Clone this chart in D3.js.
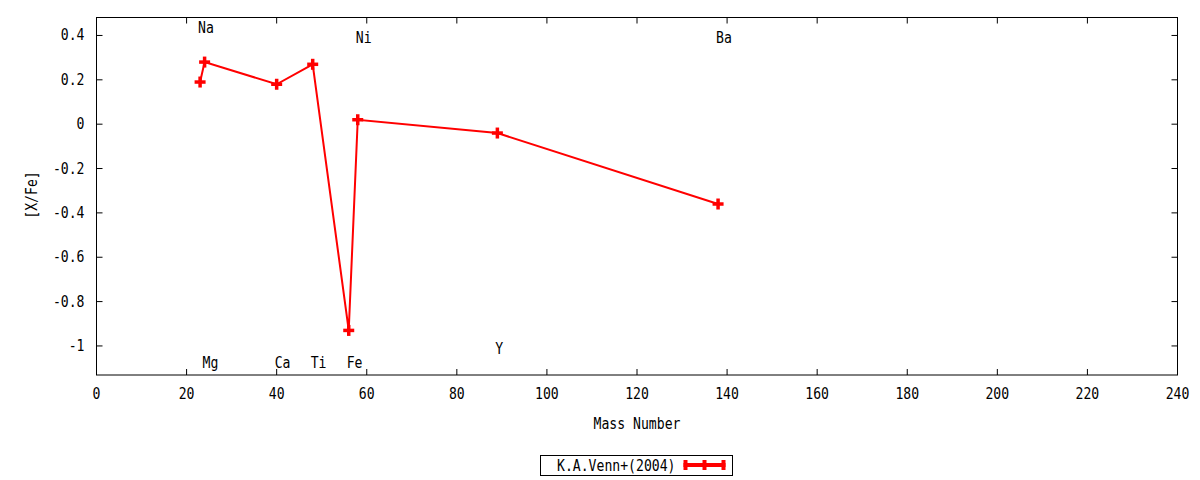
<!DOCTYPE html>
<html>
<head>
<meta charset="utf-8">
<script src="https://cdn.jsdelivr.net/npm/d3@7"></script>
<style>
  body { margin: 0; background: #fff; }
  text { font-family: "DejaVu Sans Mono", monospace; font-size: 15px; fill: #000; }
</style>
</head>
<body>
<svg id="chart" width="1200" height="480"></svg>
<script>
// abundances
var elements = ['Na', 'Mg', 'Ca', 'Ti', 'Fe', 'Ni', 'Y', 'Ba'];
var massNumber = [23, 24, 40, 48, 56, 58, 89, 138];
var xfe = [0.19, 0.28, 0.18, 0.27, -0.93, 0.02, -0.04, -0.36];

// where each element name sits (y in [X/Fe] units)
var labelY = [0.432, -1.078, -1.078, -1.078, -1.078, 0.39, -1.014, 0.39];

var xTicks = [0, 20, 40, 60, 80, 100, 120, 140, 160, 180, 200, 220, 240];
var yTicks = [0.4, 0.2, 0, -0.2, -0.4, -0.6, -0.8, -1];
var yTickLabels = ['0.4', '0.2', '0', '-0.2', '-0.4', '-0.6', '-0.8', '-1'];

var seriesName = 'K.A.Venn+(2004)';

var margins = {top: 17.5, right: 22.5, bottom: 105, left: 96.5},
    width = 1200 - margins.left - margins.right,
    height = 480 - margins.top - margins.bottom;

var charW = 7.9;   // gnuplot's narrow mono font
function squeeze(sel) {
    sel.each(function () {
        var t = d3.select(this).text();
        d3.select(this)
            .attr('textLength', t.length * charW)
            .attr('lengthAdjust', 'spacingAndGlyphs');
    });
}

var svg = d3.select('#chart')
    .append('g')
    .attr('transform', 'translate(' + margins.left + ',' + margins.top + ')');

var xScale = d3.scaleLinear().domain([0, 240]).range([0, width]);
var yScale = d3.scaleLinear().domain([-1.131, 0.481]).range([height, 0]);

// ticks, inward on all four sides
var tickLen = 6;
svg.selectAll('.xt-bot')
    .data(xTicks.slice(1, -1))
    .enter().append('line')
    .attr('x1', d => xScale(d)).attr('x2', d => xScale(d))
    .attr('y1', height).attr('y2', height - tickLen)
    .style('stroke', '#000');
svg.selectAll('.xt-top')
    .data(xTicks.slice(1, -1))
    .enter().append('line')
    .attr('x1', d => xScale(d)).attr('x2', d => xScale(d))
    .attr('y1', 0).attr('y2', tickLen)
    .style('stroke', '#000');
svg.selectAll('.yt-left')
    .data(yTicks)
    .enter().append('line')
    .attr('x1', 0).attr('x2', tickLen)
    .attr('y1', d => yScale(d)).attr('y2', d => yScale(d))
    .style('stroke', '#000');
svg.selectAll('.yt-right')
    .data(yTicks)
    .enter().append('line')
    .attr('x1', width).attr('x2', width - tickLen)
    .attr('y1', d => yScale(d)).attr('y2', d => yScale(d))
    .style('stroke', '#000');

svg.append('rect')
    .attr('x', 0).attr('y', 0)
    .attr('width', width).attr('height', height)
    .style('fill', 'none')
    .style('stroke', '#000')
    .style('stroke-width', 1);

// tick labels
svg.selectAll('.xl')
    .data(xTicks)
    .enter().append('text')
    .attr('x', d => xScale(d))
    .attr('y', height + 19)
    .attr('text-anchor', 'middle')
    .attr('dominant-baseline', 'central')
    .text(d => d)
    .call(squeeze);

svg.selectAll('.yl')
    .data(yTicks)
    .enter().append('text')
    .attr('x', -12)
    .attr('y', (d, i) => yScale(d))
    .attr('text-anchor', 'end')
    .attr('dominant-baseline', 'central')
    .text((d, i) => yTickLabels[i])
    .call(squeeze);

// axis titles
svg.append('text')
    .attr('x', xScale(120))
    .attr('y', height + 49)
    .attr('text-anchor', 'middle')
    .attr('dominant-baseline', 'central')
    .text('Mass Number')
    .call(squeeze);

svg.append('text')
    .attr('transform', 'translate(' + (-65) + ',' + (195 - margins.top) + ') rotate(-90)')
    .attr('text-anchor', 'middle')
    .attr('dominant-baseline', 'central')
    .text('[X/Fe]')
    .call(squeeze);

// element names
svg.selectAll('.el')
    .data(elements)
    .enter().append('text')
    .attr('x', (d, i) => xScale(massNumber[i]))
    .attr('dx', -2)
    .attr('y', (d, i) => yScale(labelY[i]))
    .attr('dominant-baseline', 'central')
    .text(d => d)
    .call(squeeze);

// the series
var points = massNumber.map((m, i) => ({x: m, y: xfe[i]}));

var line = d3.line()
    .x(d => xScale(d.x))
    .y(d => yScale(d.y));

svg.append('path')
    .datum(points)
    .attr('d', line)
    .style('fill', 'none')
    .style('stroke', '#ff0000')
    .style('stroke-width', 2);

var plusSize = 5.5;
var plus = svg.selectAll('.pt')
    .data(points)
    .enter().append('g')
    .attr('transform', d => 'translate(' + xScale(d.x) + ',' + yScale(d.y) + ')');
plus.append('line')
    .attr('x1', -plusSize).attr('x2', plusSize).attr('y1', 0).attr('y2', 0)
    .style('stroke', '#ff0000').style('stroke-width', 3.5);
plus.append('line')
    .attr('y1', -plusSize).attr('y2', plusSize).attr('x1', 0).attr('x2', 0)
    .style('stroke', '#ff0000').style('stroke-width', 3.5);

// key below the plot
var key = d3.select('#chart').append('g')
    .attr('transform', 'translate(540.5,455.5)');

key.append('rect')
    .attr('width', 192).attr('height', 20)
    .style('fill', 'none')
    .style('stroke', '#000');

key.append('text')
    .attr('x', 135)
    .attr('y', 10)
    .attr('text-anchor', 'end')
    .attr('dominant-baseline', 'central')
    .text(seriesName)
    .call(squeeze);

key.append('line')
    .attr('x1', 143).attr('x2', 185).attr('y1', 9.5).attr('y2', 9.5)
    .style('stroke', '#ff0000').style('stroke-width', 4);
key.selectAll('.cap')
    .data([145, 164, 183])
    .enter().append('line')
    .attr('x1', d => d).attr('x2', d => d)
    .attr('y1', 4.5).attr('y2', 14.5)
    .style('stroke', '#ff0000').style('stroke-width', 4);
</script>
</body>
</html>
